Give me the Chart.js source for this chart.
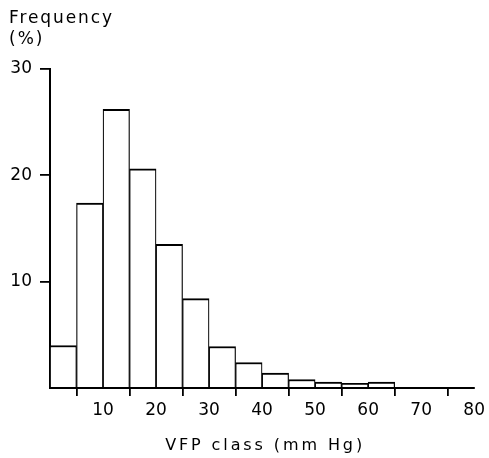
<!DOCTYPE html>
<html>
<head>
<meta charset="utf-8">
<script src="https://cdn.jsdelivr.net/npm/chart.js@4"></script>
<style>
  html, body { margin: 0; padding: 0; background: #fff; }
  canvas { display: block; }
</style>
</head>
<body>
<canvas id="c" width="489" height="458"></canvas>
<script>
// VFP class limits (mm Hg) and the share of readings in each class (%)
const classLow  = [0, 5, 10, 15, 20, 25, 30, 35, 40, 45, 50, 55, 60];
const classHigh = [5, 10, 15, 20, 25, 30, 35, 40, 45, 50, 55, 60, 65];
const frequency = [4.0, 17.4, 26.2, 20.6, 13.5, 8.4, 3.9, 2.4, 1.4, 0.8, 0.55, 0.45, 0.55];

// Labelled ticks on each axis
const xTickLabels = [10, 20, 30, 40, 50, 60, 70, 80];
const yTickLabels = [10, 20, 30];

const yTitleLines = ['Frequency', '(%)'];
const xTitleText = 'VFP class (mm Hg)';

const FONT = '"DejaVu Sans", "Liberation Sans", sans-serif';

// Axis titles drawn with wide letter spacing
const axisTitles = {
  id: 'axisTitles',
  afterDraw(chart) {
    const ctx = chart.ctx;
    const area = chart.chartArea;
    ctx.save();
    ctx.fillStyle = '#000';
    ctx.textAlign = 'left';
    ctx.textBaseline = 'alphabetic';
    ctx.font = '17px ' + FONT;
    ctx.letterSpacing = '1.9px';
    ctx.fillText(yTitleLines[0], 9, 23);
    ctx.letterSpacing = '2px';
    ctx.fillText(yTitleLines[1], 9, 44);
    ctx.font = '16px ' + FONT;
    ctx.letterSpacing = '2.9px';
    ctx.textAlign = 'center';
    ctx.fillText(xTitleText, (area.left + area.right) / 2 + 3, 450);
    ctx.restore();
  }
};

const hideZero = (c) => (c.tick && c.tick.value === 0) ? 'rgba(0,0,0,0)' : '#000';

new Chart(document.getElementById('c'), {
  type: 'bar',
  data: {
    datasets: [{
      data: classLow.map((lo, i) => ({ x: (lo + classHigh[i]) / 2, y: frequency[i] })),
      backgroundColor: '#fff',
      borderColor: '#000',
      borderWidth: { top: 2, left: 1.2, right: 1.2, bottom: 0 },
      barPercentage: 1,
      categoryPercentage: 1
    }]
  },
  options: {
    responsive: false,
    animation: false,
    devicePixelRatio: 1,
    layout: { padding: { top: 69, right: 11, left: 0, bottom: 0 } },
    plugins: { legend: { display: false }, tooltip: { enabled: false } },
    scales: {
      x: {
        type: 'linear',
        min: 0,
        max: 80,
        offset: false,
        afterFit(scale) { scale.height = 70; },
        ticks: {
          stepSize: 10,
          autoSkip: false,
          maxRotation: 0,
          padding: 4,
          color: '#000',
          font: { family: FONT, size: 17 },
          callback: (v) => xTickLabels.includes(v) ? String(v) : ''
        },
        grid: { drawOnChartArea: false, drawTicks: true, tickLength: 8, color: hideZero, lineWidth: 1.8 },
        border: { display: true, color: '#000', width: 2 }
      },
      y: {
        min: 0,
        max: 30,
        afterFit(scale) { scale.width = 50; },
        ticks: {
          stepSize: 10,
          padding: 8,
          color: '#000',
          font: { family: FONT, size: 17 },
          callback: (v) => yTickLabels.includes(v) ? String(v) : ''
        },
        grid: { drawOnChartArea: false, drawTicks: true, tickLength: 10, color: hideZero, lineWidth: 1.8 },
        border: { display: true, color: '#000', width: 2 }
      }
    }
  },
  plugins: [axisTitles]
});
</script>
</body>
</html>
